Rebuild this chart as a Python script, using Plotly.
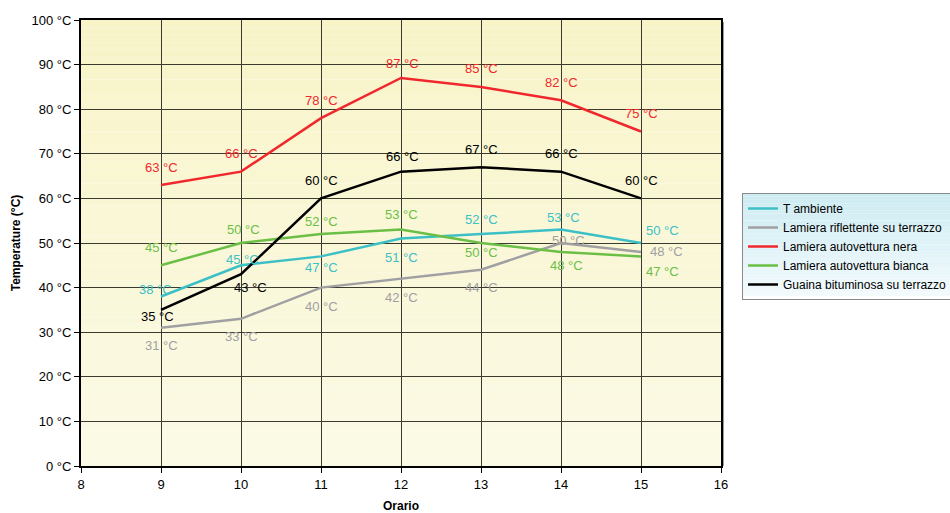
import plotly.graph_objects as go

# Hours of the day
ore = [9, 10, 11, 12, 13, 14, 15]

# Measured temperatures (°C)
t_ambiente = [38, 45, 47, 51, 52, 53, 50]
lamiera_riflettente = [31, 33, 40, 42, 44, 50, 48]
lamiera_nera = [63, 66, 78, 87, 85, 82, 75]
lamiera_bianca = [45, 50, 52, 53, 50, 48, 47]
guaina = [35, 43, 60, 66, 67, 66, 60]

y_ticks = [0, 10, 20, 30, 40, 50, 60, 70, 80, 90, 100]
x_ticks = [8, 9, 10, 11, 12, 13, 14, 15, 16]

FONT = "Liberation Sans, Arial, sans-serif"

# name, values, colour, per-point label offsets in px (dx, dy)
series = [
    ("T ambiente", t_ambiente, "#3cc0c6",
     [(-6, 7), (1, 6), (0, -11), (0, -19), (0, 15), (2, 12), (21, 13)]),
    ("Lamiera riflettente su terrazzo", lamiera_riflettente, "#a0a0a2",
     [(0, -18), (0, -18), (0, -19), (0, -19), (0, -18), (7, 3), (25, 0)]),
    ("Lamiera autovettura nera", lamiera_nera, "#f0282e",
     [(0, 18), (0, 18), (0, 18), (1, 14), (0, 18), (0, 18), (0, 18)]),
    ("Lamiera autovettura bianca", lamiera_bianca, "#6cbf46",
     [(0, 18), (2, 14), (0, 13), (0, 15), (0, -9), (5, -14), (21, -15)]),
    ("Guaina bituminosa su terrazzo", guaina, "#000000",
     [(-4, -7), (9, -13), (0, 18), (1, 15), (0, 18), (0, 18), (0, 18)]),
]

fig = go.Figure()
annotations = []
for name, vals, col, offs in series:
    fig.add_trace(go.Scatter(
        x=ore, y=vals, mode="lines", name=name,
        line=dict(color=col, width=2.5),
    ))
    for xv, yv, (dx, dy) in zip(ore, vals, offs):
        annotations.append(dict(
            x=xv, y=yv, xref="x", yref="y", text=f"{yv} °C",
            showarrow=False, xshift=dx, yshift=dy,
            font=dict(family=FONT, size=13, color=col),
        ))

shapes = []
# vertical gradient for the plot background
n = 60
top = (248, 244, 200)
bot = (251, 250, 230)
for i in range(n):
    f = i / (n - 1)
    c = tuple(round(top[k] + (bot[k] - top[k]) * f) for k in range(3))
    shapes.append(dict(
        type="rect", xref="x domain", yref="y domain",
        x0=0, x1=1, y0=1 - (i + 1) / n, y1=1 - i / n,
        fillcolor="rgb(%d,%d,%d)" % c, line=dict(width=0), layer="below",
    ))

# legend box gradient (paper coords relative to the plot area)
px0, px1 = 81, 721
py0, py1 = 20, 466
def to_px(xpix):
    return (xpix - px0) / (px1 - px0)
def to_py(ypix):
    return (py1 - ypix) / (py1 - py0)

lg_top, lg_bot = 193, 296
ltop = (204, 235, 242)
lbot = (242, 250, 252)
m = 30
for i in range(m):
    f = i / (m - 1)
    c = tuple(round(ltop[k] + (lbot[k] - ltop[k]) * f) for k in range(3))
    ya = lg_top + (lg_bot - lg_top) * i / m
    yb = lg_top + (lg_bot - lg_top) * (i + 1) / m
    shapes.append(dict(
        type="rect", xref="paper", yref="paper",
        x0=to_px(742), x1=to_px(960), y0=to_py(yb), y1=to_py(ya),
        fillcolor="rgb(%d,%d,%d)" % c, line=dict(width=0), layer="above",
    ))

# soft shadow along the right edge of the plot frame
shapes.append(dict(type="line", xref="paper", yref="paper",
                   x0=to_px(723), x1=to_px(723), y0=to_py(466), y1=to_py(22),
                   line=dict(color="#9a9a9a", width=2), layer="below"))

fig.update_layout(
    width=950, height=513,
    margin=dict(l=81, r=229, t=20, b=47, autoexpand=False),
    paper_bgcolor="white",
    plot_bgcolor="rgba(0,0,0,0)",
    font=dict(family=FONT, size=13, color="#000"),
    shapes=shapes,
    annotations=annotations,
    showlegend=True,
    legend=dict(
        x=to_px(742), y=to_py(193), xanchor="left", yanchor="top",
        bgcolor="rgba(0,0,0,0)", bordercolor="#8a8a8a", borderwidth=1,
        font=dict(family=FONT, size=12, color="#000"),
        tracegroupgap=0, itemwidth=30,
    ),
    xaxis=dict(
        range=[8, 16], tickvals=x_ticks, ticktext=[str(v) for v in x_ticks],
        showgrid=True, gridcolor="#3a3a30", gridwidth=1,
        showline=True, linecolor="#000", linewidth=2, mirror=True,
        ticks="outside", ticklen=5, tickcolor="#000",
        zeroline=False,
        title=dict(text="<b>Orario</b>", font=dict(family=FONT, size=12), standoff=15),
        tickfont=dict(family=FONT, size=13),
    ),
    yaxis=dict(
        range=[0, 100], tickvals=y_ticks, ticktext=[f"{v} °C" for v in y_ticks],
        showgrid=True, gridcolor="#3a3a30", gridwidth=1,
        showline=True, linecolor="#000", linewidth=2, mirror=True,
        ticks="outside", ticklen=5, tickcolor="#000",
        zeroline=False,
        title=dict(text="<b>Temperature (°C)</b>", font=dict(family=FONT, size=12), standoff=8),
        tickfont=dict(family=FONT, size=13),
    ),
)

fig.write_html("out.html")
